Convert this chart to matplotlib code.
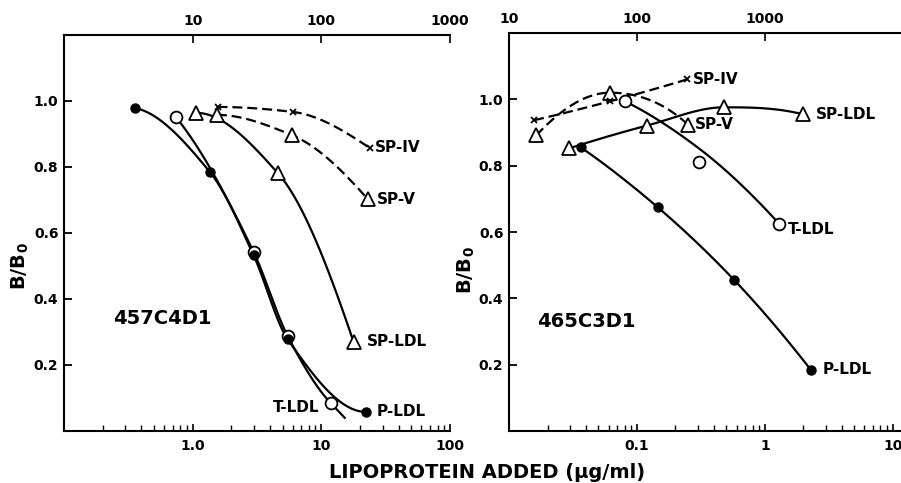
import numpy as np
import matplotlib
matplotlib.use('Agg')
import matplotlib.pyplot as plt
from matplotlib.ticker import LogLocator, NullLocator, NullFormatter

plt.rcParams['font.family'] = ['DejaVu Sans']
plt.rcParams['font.weight'] = 'bold'
plt.rcParams['axes.labelweight'] = 'bold'
plt.rcParams['mathtext.fontset'] = 'dejavusans'
plt.rcParams['mathtext.default'] = 'bf'

# ---- left panel: 457C4D1 (x in ug/ml, bottom axis) ----
l_pldl_x = [0.354, 1.36, 2.98, 5.47, 22.1]
l_pldl_y = [0.979, 0.785, 0.532, 0.278, 0.058]
l_tldl_x = [0.738, 2.98, 5.47, 11.8]
l_tldl_y = [0.952, 0.542, 0.288, 0.085]
l_spldl_x = [1.07, 4.58, 17.8]
l_spldl_y = [0.964, 0.782, 0.27]
l_sp4_x = [1.56, 5.98, 23.7]
l_sp4_y = [0.982, 0.967, 0.858]
l_sp5_x = [1.54, 5.88, 22.9]
l_sp5_y = [0.958, 0.897, 0.703]

# ---- right panel: 465C3D1 ----
r_sp4_x = [0.0157, 0.0615, 0.246]
r_sp4_y = [0.937, 0.994, 1.06]
r_sp5_x = [0.0163, 0.0615, 0.25]
r_sp5_y = [0.891, 1.02, 0.924]
r_spldl_x = [0.0294, 0.12, 0.479, 1.98]
r_spldl_y = [0.852, 0.921, 0.976, 0.955]
r_pldl_x = [0.0365, 0.146, 0.573, 2.29]
r_pldl_y = [0.855, 0.674, 0.456, 0.184]
r_tldl_x = [0.0806, 0.305, 1.29]
r_tldl_y = [0.994, 0.81, 0.625]
r_tldl_fit_y = [0.994, 0.852, 0.625]  # drawn curve passes above middle point

solid = dict(color='black', lw=1.6, ls='-', zorder=2)
dashed = dict(color='black', lw=1.6, ls=(0, (4.5, 2.2)), zorder=2)

filled = dict(marker='o', ms=6.5, mfc='black', mec='black', ls='none', zorder=4)
opencirc = dict(marker='o', ms=8.5, mfc='white', mec='black', mew=1.3, ls='none', zorder=3)
tri = dict(marker='^', ms=9.5, mfc='white', mec='black', mew=1.3, ls='none', zorder=3)
cross = dict(marker='x', ms=5, mec='black', mew=1.3, ls='none', zorder=3)


def pchip_slopes(x, y):
    h = np.diff(x)
    d = np.diff(y) / h
    n = len(x)
    m = np.zeros(n)
    for k in range(1, n - 1):
        if d[k - 1] * d[k] > 0:
            w1 = 2 * h[k] + h[k - 1]
            w2 = h[k] + 2 * h[k - 1]
            m[k] = (w1 + w2) / (w1 / d[k - 1] + w2 / d[k])
    if n == 2:
        m[0] = m[1] = d[0]
        return m
    for i, (h0, h1, d0, d1) in ((0, (h[0], h[1], d[0], d[1])),
                                (n - 1, (h[-1], h[-2], d[-1], d[-2]))):
        s = ((2 * h0 + h1) * d0 - h0 * d1) / (h0 + h1)
        if np.sign(s) != np.sign(d0):
            s = 0.0
        elif np.sign(d0) != np.sign(d1) and abs(s) > abs(3 * d0):
            s = 3 * d0
        m[i] = s
    return m


def curve(ax, xs, ys, style, x_end=None):
    # smooth monotone cubic through the points, in log-x space
    lx = np.log10(xs)
    ys = np.asarray(ys, float)
    m = pchip_slopes(lx, ys)
    px, py = [], []
    for k in range(len(lx) - 1):
        hk = lx[k + 1] - lx[k]
        s = np.linspace(0, 1, 60)
        h00 = 2 * s ** 3 - 3 * s ** 2 + 1
        h10 = s ** 3 - 2 * s ** 2 + s
        h01 = -2 * s ** 3 + 3 * s ** 2
        h11 = s ** 3 - s ** 2
        px.extend(lx[k] + s * hk)
        py.extend(h00 * ys[k] + h10 * hk * m[k] + h01 * ys[k + 1] + h11 * hk * m[k + 1])
    if x_end:
        e = np.log10(x_end)
        px.append(e)
        py.append(ys[-1] + m[-1] * (e - lx[-1]))
    ax.plot(10 ** np.array(px), py, **style)


def label(ax, text, x, y, dx, dy=0, ha='left'):
    ax.annotate(text, (x, y), xytext=(dx, dy), textcoords='offset points',
                ha=ha, va='center', fontsize=11, fontweight='bold')


def style_axes(ax, factor, top_ticks, bottom_ticks, bottom_labels):
    ax.set_xscale('log')
    ax.set_ylim(0, 1.2)
    ax.spines['right'].set_visible(False)
    ax.spines['top'].set_visible(False)
    for s in ('left', 'bottom'):
        ax.spines[s].set_linewidth(1.5)
    ax.set_yticks([0.2, 0.4, 0.6, 0.8, 1.0], ['0.2', '0.4', '0.6', '0.8', '1.0'])
    ax.set_xticks(bottom_ticks, bottom_labels)
    ax.xaxis.set_minor_locator(LogLocator(base=10, subs=np.arange(2, 10)))
    ax.xaxis.set_minor_formatter(NullFormatter())
    ax.tick_params(axis='y', direction='in', length=6, width=1.3, pad=4, labelsize=10)
    ax.tick_params(axis='x', which='major', direction='in', length=5, width=1.2,
                   pad=6, labelsize=10)
    ax.tick_params(axis='x', which='minor', direction='in', length=4, width=1.0)
    sec = ax.secondary_xaxis('top', functions=(lambda v: v * factor, lambda v: v / factor))
    sec.set_xticks(top_ticks, [str(t) for t in top_ticks])
    sec.xaxis.set_minor_locator(NullLocator())
    sec.tick_params(direction='in', length=6, width=1.2, pad=5, labelsize=10)
    sec.spines['top'].set_linewidth(1.5)
    ax.set_ylabel('B/B$_0$', fontsize=14)


fig = plt.figure(figsize=(9.01, 4.83), dpi=100)
ax1 = fig.add_axes([64 / 901, 52 / 483, 386 / 901, 396 / 483])
ax2 = fig.add_axes([509 / 901, 52 / 483, 394 / 901, 398 / 483])

# left panel
curve(ax1, l_pldl_x, l_pldl_y, solid)
curve(ax1, l_tldl_x, l_tldl_y, solid, x_end=15.2)
curve(ax1, l_spldl_x, l_spldl_y, solid)
curve(ax1, l_sp4_x, l_sp4_y, dashed)
curve(ax1, l_sp5_x, l_sp5_y, dashed)
ax1.plot(l_tldl_x, l_tldl_y, **opencirc)
ax1.plot(l_pldl_x, l_pldl_y, **filled)
ax1.plot(l_spldl_x, l_spldl_y, **tri)
ax1.plot(l_sp5_x, l_sp5_y, **tri)
ax1.plot(l_sp4_x, l_sp4_y, **cross)
label(ax1, 'SP-IV', l_sp4_x[-1], l_sp4_y[-1], 3.6)
label(ax1, 'SP-V', l_sp5_x[-1], l_sp5_y[-1], 6.5)
label(ax1, 'SP-LDL', l_spldl_x[-1], l_spldl_y[-1], 9.4)
label(ax1, 'P-LDL', l_pldl_x[-1], l_pldl_y[-1], 8)
label(ax1, 'T-LDL', l_tldl_x[-1], l_tldl_y[-1], -8, -3.6, ha='right')
ax1.set_xlim(0.1, 100)
style_axes(ax1, 10, [10, 100, 1000], [1, 10, 100], ['1.0', '10', '100'])
ax1.text(0.127, 0.285, '457C4D1', transform=ax1.transAxes, fontsize=14,
         fontweight='bold', va='center')
ax1.yaxis.set_label_coords(-0.085, 0.417)

# right panel
curve(ax2, r_sp4_x, r_sp4_y, dashed)
curve(ax2, r_sp5_x, r_sp5_y, dashed)
curve(ax2, r_spldl_x, r_spldl_y, solid)
curve(ax2, r_pldl_x, r_pldl_y, solid)
curve(ax2, r_tldl_x, r_tldl_fit_y, solid)
ax2.plot(r_spldl_x, r_spldl_y, **tri)
ax2.plot(r_sp5_x, r_sp5_y, **tri)
ax2.plot(r_tldl_x, r_tldl_y, **opencirc)
ax2.plot(r_pldl_x, r_pldl_y, **filled)
ax2.plot(r_sp4_x, r_sp4_y, **cross)
label(ax2, 'SP-IV', r_sp4_x[-1], r_sp4_y[-1], 4.3)
label(ax2, 'SP-V', r_sp5_x[-1], r_sp5_y[-1], 5)
label(ax2, 'SP-LDL', r_spldl_x[-1], r_spldl_y[-1], 9.4)
label(ax2, 'T-LDL', r_tldl_x[-1], r_tldl_y[-1], 6.5, -4.3)
label(ax2, 'P-LDL', r_pldl_x[-1], r_pldl_y[-1], 8.6)
ax2.set_xlim(0.01, 12)
style_axes(ax2, 1000, [10, 100, 1000], [0.1, 1, 10], ['0.1', '1', '10'])
ax2.text(0.072, 0.276, '465C3D1', transform=ax2.transAxes, fontsize=14,
         fontweight='bold', va='center')
ax2.yaxis.set_label_coords(-0.08, 0.405)

fig.text(487 / 901, 5 / 483, 'LIPOPROTEIN ADDED (\u00b5g/ml)', ha='center',
         va='baseline', fontsize=14, fontweight='bold')

fig.savefig('out.png', dpi=100)
